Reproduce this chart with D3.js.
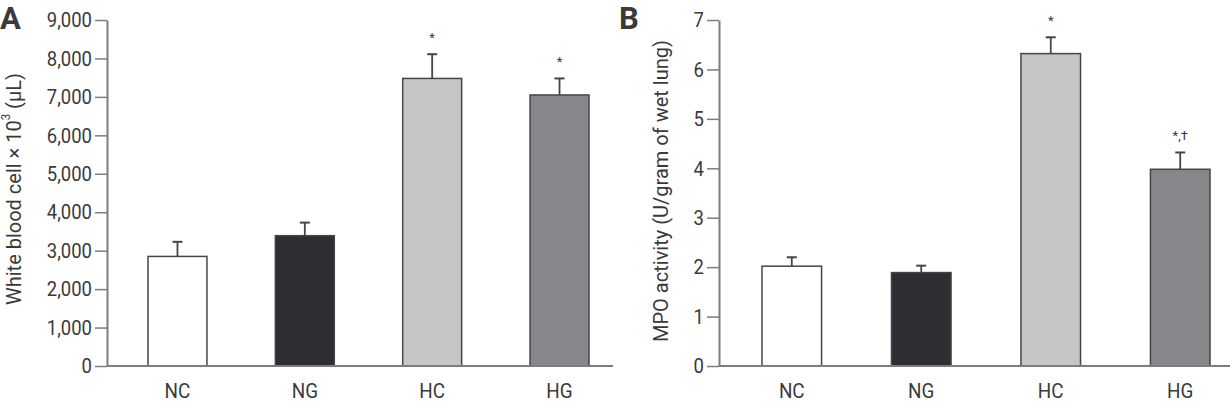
<!DOCTYPE html>
<html>
<head>
<meta charset="utf-8">
<script src="https://cdn.jsdelivr.net/npm/d3@7"></script>
<style>
    body { margin: 0; background: #fff; }
    svg text { font-family: Roboto, "Liberation Sans", sans-serif; fill: #3a3a3a; }
    svg text.ytick { transform-box: fill-box; transform-origin: right center; transform: scaleX(0.88); }
    svg text.xtick { transform-box: fill-box; transform-origin: center; transform: scaleX(0.9); }
</style>
</head>
<body>
<div id="chart"></div>
<script>
const groups = ["NC", "NG", "HC", "HG"];
const barFills = ["#ffffff", "#2d2e33", "#c4c6c8", "#86878a"];

// panel A: white blood cell count
const wbcMean = [2850, 3390, 7480, 7050];
const wbcErr = [380, 340, 630, 430];
const wbcMarks = ["", "", "*", "*"];
const wbcTicks = [0, 1000, 2000, 3000, 4000, 5000, 6000, 7000, 8000, 9000];

// panel B: MPO activity
const mpoMean = [2.02, 1.89, 6.32, 3.98];
const mpoErr = [0.18, 0.14, 0.33, 0.34];
const mpoMarks = ["", "", "*", "*,\u2020"];
const mpoTicks = [0, 1, 2, 3, 4, 5, 6, 7];

const WIDTH = 1230;
const HEIGHT = 405;
const TOP = 20;
const BOTTOM = 366;
const AXIS_COLOR = "#7d7d7d";
const BAR_STROKE = "#454545";

const svg = d3.select("#chart")
    .append("svg")
    .attr("width", WIDTH)
    .attr("height", HEIGHT);

/**
 * Draws one bar panel with error bars and significance marks.
 */
function drawPanel(opts) {
    const g = svg.append("g");

    const y = d3.scaleLinear()
        .domain([0, opts.max])
        .range([BOTTOM, TOP]);

    const x = d3.scaleBand()
        .domain(groups)
        .range([opts.barStart, opts.barEnd])
        .paddingInner(opts.pad)
        .paddingOuter(0);

    // Y axis
    const yAxis = g.append("g")
        .attr("transform", `translate(${opts.axisX},0)`)
        .call(d3.axisLeft(y)
            .tickValues(opts.ticks)
            .tickFormat(opts.format)
            .tickSizeInner(12)
            .tickSizeOuter(0)
            .tickPadding(3));
    yAxis.select(".domain").attr("stroke", AXIS_COLOR).attr("stroke-width", 2);
    yAxis.selectAll(".tick line").attr("stroke", AXIS_COLOR).attr("stroke-width", 1.5);
    yAxis.selectAll(".tick text")
        .attr("class", "ytick")
        .style("font-size", "21px")
        .attr("fill", "#3a3a3a");

    // X axis labels
    const xAxis = g.append("g")
        .attr("transform", `translate(0,${BOTTOM})`)
        .call(d3.axisBottom(x).tickSize(0).tickPadding(17));
    xAxis.select(".domain").remove();
    xAxis.selectAll(".tick text")
        .attr("class", "xtick")
        .style("font-size", "21px")
        .attr("fill", "#3a3a3a");

    // Bars
    g.selectAll("rect.bar")
        .data(groups)
        .join("rect")
        .attr("class", "bar")
        .attr("x", (d) => x(d))
        .attr("y", (d, i) => y(opts.mean[i]))
        .attr("width", x.bandwidth())
        .attr("height", (d, i) => y(0) - y(opts.mean[i]))
        .attr("fill", (d, i) => barFills[i])
        .attr("stroke", BAR_STROKE)
        .attr("stroke-width", 1.5);

    // Error bars (upper only)
    const cx = (d) => x(d) + x.bandwidth() / 2;
    g.selectAll("line.err")
        .data(groups)
        .join("line")
        .attr("class", "err")
        .attr("x1", cx)
        .attr("x2", cx)
        .attr("y1", (d, i) => y(opts.mean[i]))
        .attr("y2", (d, i) => y(opts.mean[i] + opts.err[i]))
        .attr("stroke", BAR_STROKE)
        .attr("stroke-width", 1.8);

    g.selectAll("line.cap")
        .data(groups)
        .join("line")
        .attr("class", "cap")
        .attr("x1", (d) => cx(d) - 5)
        .attr("x2", (d) => cx(d) + 5)
        .attr("y1", (d, i) => y(opts.mean[i] + opts.err[i]))
        .attr("y2", (d, i) => y(opts.mean[i] + opts.err[i]))
        .attr("stroke", BAR_STROKE)
        .attr("stroke-width", 2);

    g.selectAll("text.mark")
        .data(groups)
        .join("text")
        .attr("class", "mark")
        .attr("x", cx)
        .attr("y", (d, i) => y(opts.mean[i] + opts.err[i]) - 12)
        .attr("text-anchor", "middle")
        .style("font-size", "13px")
        .attr("fill", "#555")
        .text((d, i) => opts.marks[i]);

    // Baseline
    g.append("line")
        .attr("x1", opts.axisX)
        .attr("x2", opts.baseEnd)
        .attr("y1", y(0))
        .attr("y2", y(0))
        .attr("stroke", AXIS_COLOR)
        .attr("stroke-width", 2);

    // Y title
    g.append("text")
        .attr("transform", `translate(${opts.titleX},${opts.titleY}) rotate(-90)`)
        .attr("text-anchor", "middle")
        .attr("dominant-baseline", "middle")
        .attr("textLength", opts.titleLen)
        .attr("lengthAdjust", "spacingAndGlyphs")
        .style("font-size", "21px")
        .html(opts.title);

    // Panel letter
    g.append("text")
        .attr("x", opts.letterX)
        .attr("y", 29)
        .style("font-size", "31px")
        .style("font-weight", "bold")
        .attr("fill", "#222")
        .text(opts.letter);
}

drawPanel({
    letter: "A",
    letterX: 0,
    max: 9000,
    ticks: wbcTicks,
    format: d3.format(","),
    mean: wbcMean,
    err: wbcErr,
    marks: wbcMarks,
    axisX: 107,
    barStart: 148,
    barEnd: 589,
    pad: 0.537,
    baseEnd: 613,
    titleX: 15,
    titleY: 189,
    titleLen: 232,
    title: 'White blood cell \u00d7 10<tspan dy="-8" font-size="12px">3</tspan><tspan dy="8"> (\u03bcL)</tspan>'
});

drawPanel({
    letter: "B",
    letterX: 619,
    max: 7,
    ticks: mpoTicks,
    format: d3.format("d"),
    mean: mpoMean,
    err: mpoErr,
    marks: mpoMarks,
    axisX: 719,
    barStart: 762,
    barEnd: 1210,
    pad: 0.54,
    baseEnd: 1230,
    titleX: 662,
    titleY: 191,
    titleLen: 302,
    title: "MPO activity (U/gram of wet lung)"
});
</script>
</body>
</html>
